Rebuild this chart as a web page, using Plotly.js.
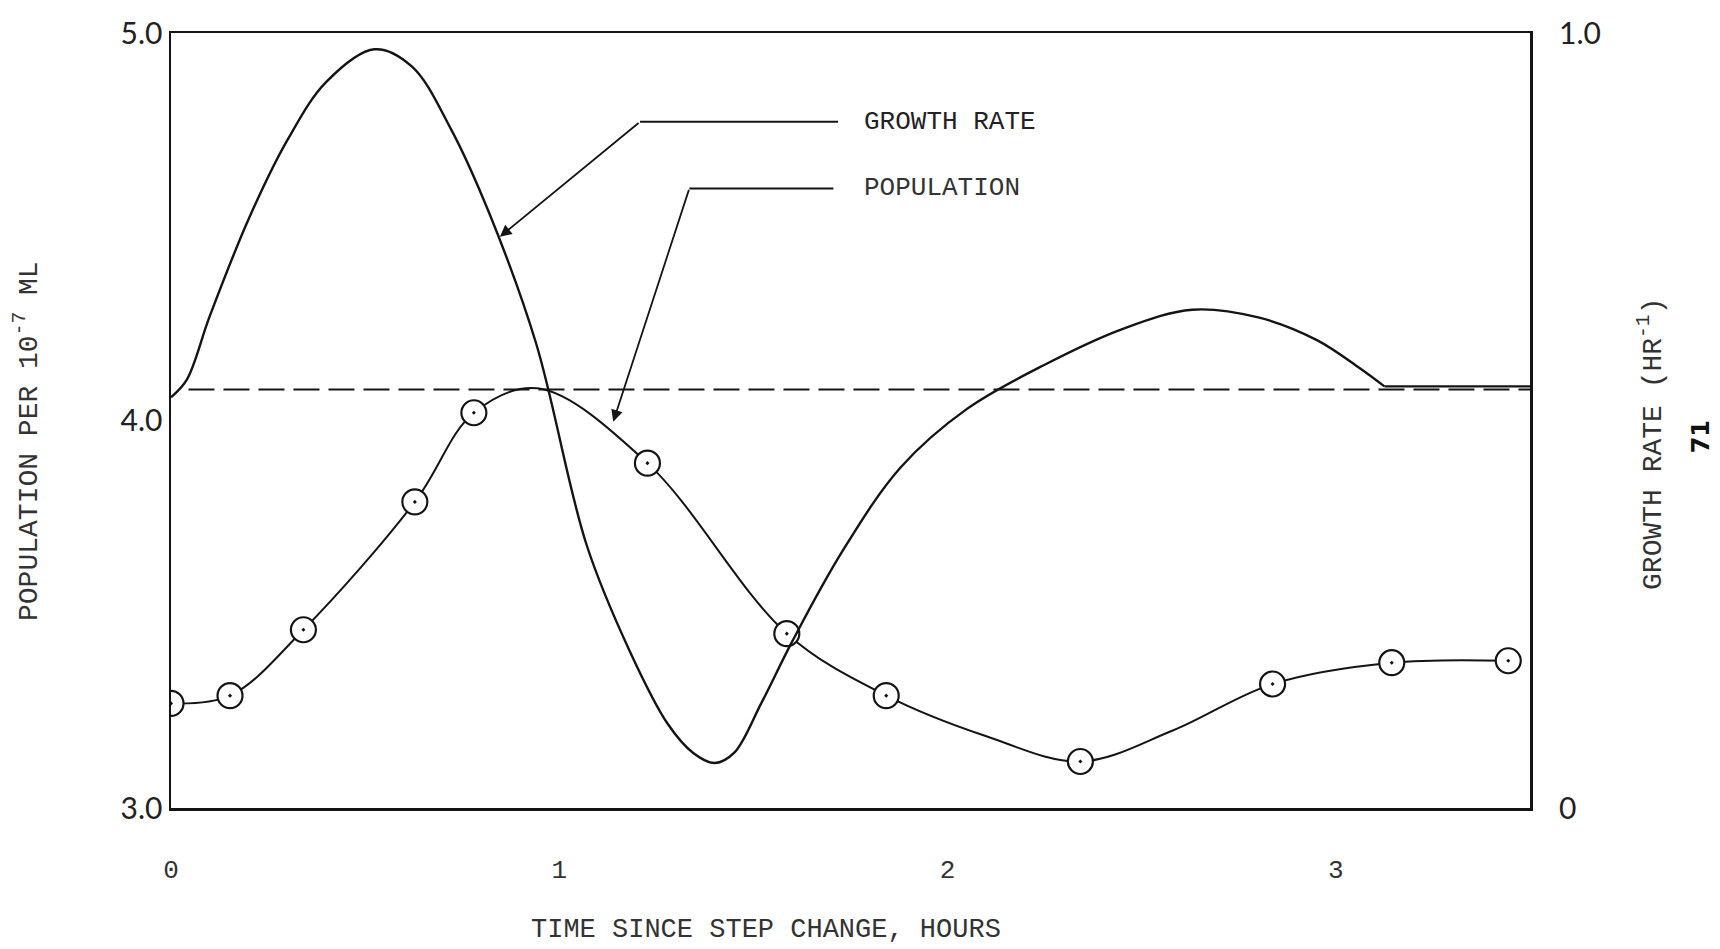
<!DOCTYPE html>
<html>
<head>
<meta charset="utf-8">
<script src="https://cdn.plot.ly/plotly-3.0.1.min.js"></script>
<style>
  html, body { margin: 0; padding: 0; background: #ffffff; }
  #chart { width: 1720px; height: 949px; }
</style>
</head>
<body>
<div id="chart"></div>
<script>
// ---- Data ----
// Measured population (circles), time in hours since step change
const popTimes  = [0.00, 0.152, 0.341, 0.628, 0.780, 1.227, 1.586, 1.842, 2.342, 2.837, 3.144, 3.444];
const popValues = [3.27, 3.29, 3.46, 3.79, 4.02, 3.89, 3.45, 3.29, 3.12, 3.32, 3.375, 3.38];

// Smooth population curve drawn through the points
const popCurveTimes  = [0.00, 0.152, 0.341, 0.628, 0.780, 0.944, 1.227, 1.586, 1.842, 2.10, 2.342, 2.58, 2.837, 3.144, 3.444];
const popCurveValues = [3.27, 3.29, 3.46, 3.79, 4.02, 4.083, 3.89, 3.45, 3.29, 3.185, 3.12, 3.20, 3.32, 3.375, 3.38];

// Growth rate curve (hr^-1), right axis
const growthTimes  = [0.00, 0.04, 0.10, 0.20, 0.30, 0.40, 0.524, 0.62, 0.72, 0.82, 0.94, 1.07, 1.18, 1.28,
                      1.345, 1.40, 1.45, 1.52, 1.60, 1.73, 1.88, 2.05, 2.25, 2.45, 2.63, 2.80, 2.95, 3.06, 3.125];
const growthValues = [0.530, 0.552, 0.635, 0.760, 0.862, 0.937, 0.979, 0.957, 0.877, 0.767, 0.600, 0.340, 0.204, 0.108,
                      0.071, 0.058, 0.071, 0.135, 0.215, 0.332, 0.440, 0.515, 0.572, 0.618, 0.643, 0.633, 0.604, 0.568, 0.544];
// Flat tail of the growth rate after it settles
const growthTailTimes  = [3.125, 3.50];
const growthTailValues = [0.544, 0.544];

// Steady-state growth rate (dashed line)
const steadyTimes  = [0.045, 3.50];
const steadyValues = [0.54, 0.54];

// Axis ticks
const xTicks = [0, 1, 2, 3];
const popTicks = [3, 4, 5];
const popTickText = ['3.0', '4.0', '5.0'];
const rateTicks = [0, 1];
const rateTickText = ['0', '1.0'];

// ---- Styling ----
const INK = '#141414';
const TYPE = 'Liberation Mono, Courier New, monospace';
const HAND = 'Lato, Noto Sans, sans-serif';

const traces = [
  {
    x: popCurveTimes, y: popCurveValues, type: 'scatter', mode: 'lines',
    line: { shape: 'spline', smoothing: 1, color: INK, width: 2 },
    xaxis: 'x', yaxis: 'y', hoverinfo: 'skip', showlegend: false
  },
  {
    x: steadyTimes, y: steadyValues, type: 'scatter', mode: 'lines',
    line: { color: INK, width: 2, dash: '26px,9px' },
    xaxis: 'x', yaxis: 'y2', hoverinfo: 'skip', showlegend: false
  },
  {
    x: growthTimes, y: growthValues, type: 'scatter', mode: 'lines',
    line: { shape: 'spline', smoothing: 1, color: INK, width: 2.4 },
    xaxis: 'x', yaxis: 'y2', showlegend: false
  },
  {
    x: growthTailTimes, y: growthTailValues, type: 'scatter', mode: 'lines',
    line: { color: INK, width: 2.4 },
    xaxis: 'x', yaxis: 'y2', hoverinfo: 'skip', showlegend: false
  },
  {
    x: popTimes, y: popValues, type: 'scatter', mode: 'markers',
    marker: { symbol: 'circle-dot', size: 25, color: '#ffffff', line: { color: INK, width: 2.2 } },
    xaxis: 'x', yaxis: 'y', showlegend: false
  }
];

const layout = {
  width: 1720, height: 949,
  paper_bgcolor: '#ffffff', plot_bgcolor: '#ffffff',
  margin: { l: 171, r: 190, t: 33, b: 141 },
  showlegend: false,
  xaxis: {
    range: [0, 3.5], tickvals: xTicks, ticks: '', ticklabelstandoff: 36,
    showgrid: false, zeroline: false,
    showline: true, mirror: true, linecolor: INK, linewidth: 2.5,
    tickfont: { family: TYPE, size: 26, color: '#333' }
  },
  yaxis: {
    range: [3, 5], tickvals: popTicks, ticktext: popTickText, ticks: '', ticklabelstandoff: 0,
    showgrid: false, zeroline: false,
    showline: true, mirror: true, linecolor: INK, linewidth: 2.5,
    tickfont: { family: HAND, size: 30, color: '#222' }
  },
  yaxis2: {
    range: [0, 1], tickvals: rateTicks, ticktext: rateTickText, ticks: '', ticklabelstandoff: 28,
    overlaying: 'y', side: 'right',
    showgrid: false, zeroline: false, showline: false,
    tickfont: { family: HAND, size: 30, color: '#222' }
  },
  shapes: [
    { type: 'line', xref: 'x', yref: 'y', x0: 1.208, y0: 4.771, x1: 1.718, y1: 4.771, line: { color: INK, width: 2 } },
    { type: 'line', xref: 'x', yref: 'y', x0: 1.335, y0: 4.599, x1: 1.706, y1: 4.599, line: { color: INK, width: 2 } }
  ],
  annotations: [
    { x: 0.847, y: 4.474, xref: 'x', yref: 'y', ax: 1.208, ay: 4.771, axref: 'x', ayref: 'y',
      text: '', showarrow: true, arrowhead: 2, arrowsize: 1.3, arrowwidth: 1.8, arrowcolor: INK },
    { x: 1.139, y: 3.997, xref: 'x', yref: 'y', ax: 1.335, ay: 4.599, axref: 'x', ayref: 'y',
      text: '', showarrow: true, arrowhead: 2, arrowsize: 1.3, arrowwidth: 1.8, arrowcolor: INK },
    { x: 1.779, y: 4.771, xref: 'x', yref: 'y', xanchor: 'left', yanchor: 'middle', showarrow: false,
      text: 'GROWTH RATE', font: { family: TYPE, size: 26, color: '#222' } },
    { x: 1.779, y: 4.599, xref: 'x', yref: 'y', xanchor: 'left', yanchor: 'middle', showarrow: false,
      text: 'POPULATION', font: { family: TYPE, size: 26, color: '#333' } },
    // x-axis title (placed left of centre, as in the original)
    { x: 0.438, y: -0.157, xref: 'paper', yref: 'paper', xanchor: 'center', yanchor: 'middle', showarrow: false,
      text: 'TIME SINCE STEP CHANGE, HOURS', font: { family: TYPE, size: 27, color: '#333' } },
    // left y-axis title
    { x: -0.106, y: 0.4735, xref: 'paper', yref: 'paper', xanchor: 'center', yanchor: 'middle', showarrow: false,
      textangle: -90, text: 'POPULATION PER 10<sup>-7</sup> ML', font: { family: TYPE, size: 28, color: '#333' } },
    // right y-axis title
    { x: 1.089, y: 0.4697, xref: 'paper', yref: 'paper', xanchor: 'center', yanchor: 'middle', showarrow: false,
      textangle: -90, text: 'GROWTH RATE (HR<sup>-1</sup>)', font: { family: TYPE, size: 28, color: '#333' } },
    // page number
    { x: 1.1255, y: 0.479, xref: 'paper', yref: 'paper', xanchor: 'center', yanchor: 'middle',
      showarrow: false, text: '<b>71</b>', textangle: -90, font: { family: 'DejaVu Sans, sans-serif', size: 24, color: '#111' } }
  ]
};

Plotly.newPlot('chart', traces, layout, { displayModeBar: false, staticPlot: true });
</script>
</body>
</html>
